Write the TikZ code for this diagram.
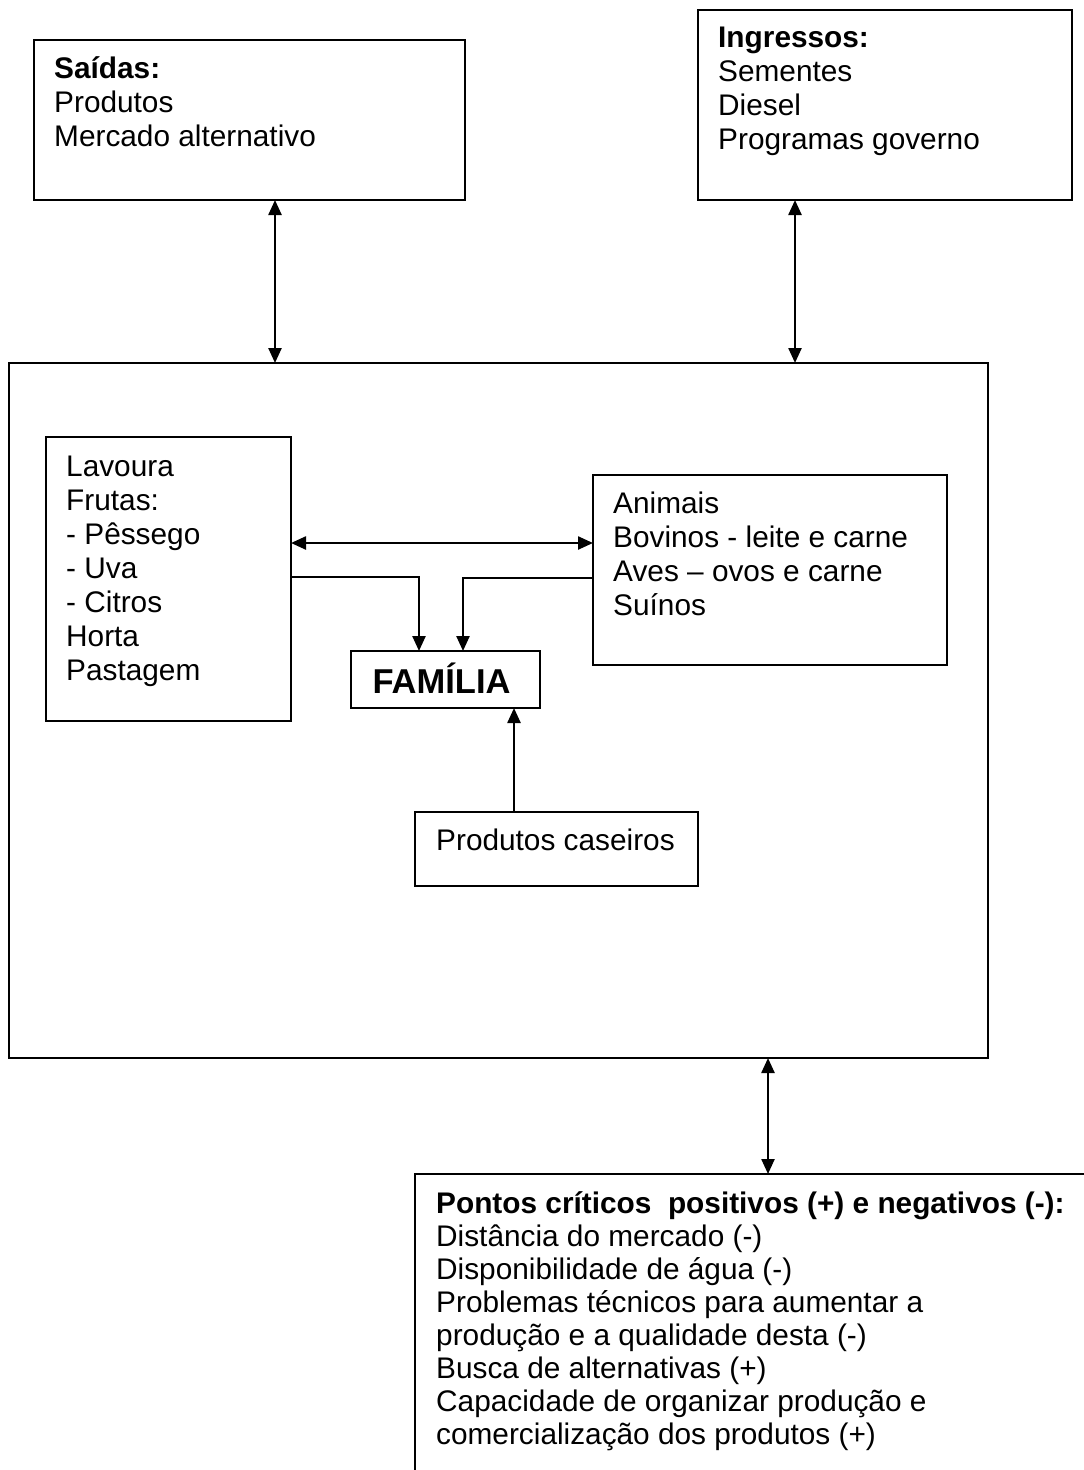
\documentclass[tikz,border=0pt]{standalone}
\usepackage{fontspec}
\setmainfont{Liberation Sans}
\usetikzlibrary{arrows.meta}

\begin{document}
\begin{tikzpicture}[x=1pt,y=-1pt,
  box/.style={draw,line width=1.9pt,rectangle,inner sep=0pt,outer sep=0pt},
  txt/.style={anchor=base west,inner sep=0pt,font=\fontsize{29.8}{34}\selectfont},
  tip/.tip={Triangle[length=15pt,width=13pt]},
  conn/.style={line width=2.4pt,-tip},
  dbl/.style={line width=2.4pt,tip-tip}]
\clip (0,0) rectangle (1084,1470);

% boxes
\node[box,minimum width=431,minimum height=160] (saidas) at (249.5,120) {};
\node[box,minimum width=374,minimum height=190] (ingressos) at (885,105) {};
\node[box,minimum width=979,minimum height=695] (sistema) at (498.5,710.5) {};
\node[box,minimum width=245,minimum height=284] (lavoura) at (168.5,579) {};
\node[box,minimum width=354,minimum height=190] (animais) at (770,570) {};
\node[box,minimum width=189,minimum height=57] (familia) at (445.5,679.5) {};
\node[box,minimum width=283,minimum height=74] (caseiros) at (556.5,849) {};
\node[box,minimum width=685,minimum height=340] (pontos) at (757.5,1344) {};

% texts
\node[txt] (tsaidas) at (54,78) {\begin{tabular}[t]{@{}l@{}}\textbf{Saídas:}\\Produtos\\Mercado alternativo\end{tabular}};
\node[txt] (tingressos) at (718,47) {\begin{tabular}[t]{@{}l@{}}\textbf{Ingressos:}\\Sementes\\Diesel\\Programas governo\end{tabular}};
\node[txt] (tlavoura) at (66,476) {\begin{tabular}[t]{@{}l@{}}Lavoura\\Frutas:\\- Pêssego\\- Uva\\- Citros\\Horta\\Pastagem\end{tabular}};
\node[txt] (tanimais) at (613,513) {\begin{tabular}[t]{@{}l@{}}Animais\\Bovinos - leite e carne\\Aves – ovos e carne\\Suínos\end{tabular}};
\node[anchor=base,inner sep=0pt,font=\fontsize{34.5}{40}\selectfont\bfseries] (tfamilia) at (441.5,693) {FAMÍLIA};
\node[txt] (tcaseiros) at (436,850) {Produtos caseiros};
\node[txt,font=\fontsize{29.8}{33}\selectfont] (tpontos) at (436,1213) {\begin{tabular}[t]{@{}l@{}}\textbf{Pontos críticos\ \ positivos (+) e negativos (-):}\\Distância do mercado (-)\\Disponibilidade de água (-)\\Problemas técnicos para aumentar a\\produção e a qualidade desta (-)\\Busca de alternativas (+)\\Capacidade de organizar produção e\\comercialização dos produtos (+)\end{tabular}};

% connectors
\draw[dbl] ([xshift=25.5pt]saidas.south) -- ([xshift=25.5pt]saidas.south |- sistema.north);
\draw[dbl] ([xshift=-90pt]ingressos.south) -- ([xshift=-90pt]ingressos.south |- sistema.north);
\draw[dbl] ([yshift=36pt]lavoura.east) -- ([yshift=36pt]lavoura.east -| animais.west);
\draw[conn] ([yshift=2pt]lavoura.east) -| ([xshift=-26.5pt]familia.north);
\draw[conn] ([yshift=-8pt]animais.west) -| ([xshift=17.5pt]familia.north);
\draw[conn] ([xshift=-42.5pt]caseiros.north) -- ([xshift=-42.5pt]caseiros.north |- familia.south);
\draw[dbl] ([xshift=269.5pt]sistema.south) -- ([xshift=269.5pt]sistema.south |- pontos.north);
\end{tikzpicture}
\end{document}
